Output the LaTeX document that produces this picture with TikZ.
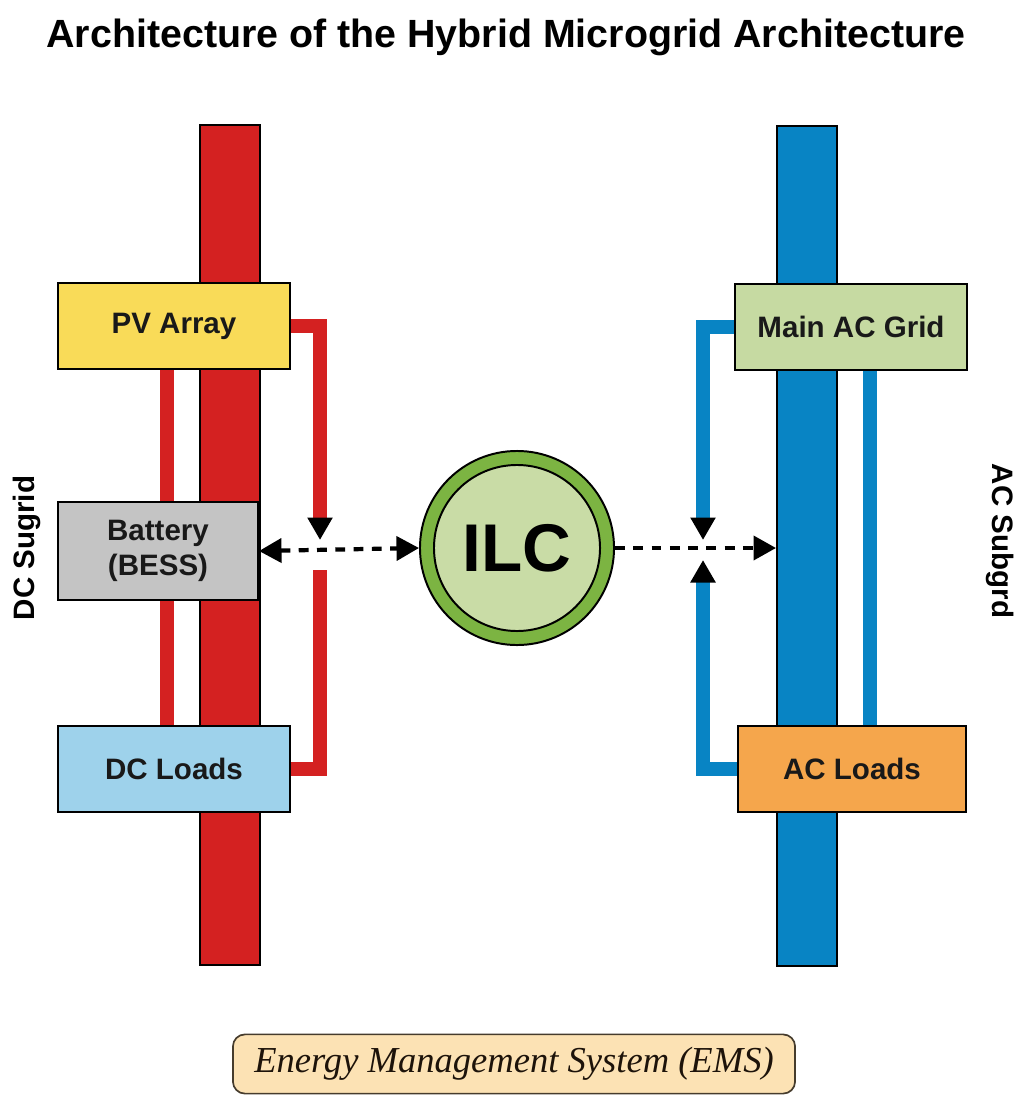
\documentclass[tikz,border=0pt]{standalone}
\usepackage{fontspec}
\setmainfont{Liberation Sans}
\newfontfamily\emsfont{Liberation Serif}
\usetikzlibrary{arrows.meta,positioning}
\definecolor{dcred}{RGB}{212,33,33}
\definecolor{acblue}{RGB}{8,132,196}
\definecolor{pvyellow}{RGB}{249,219,88}
\definecolor{battgray}{RGB}{196,196,196}
\definecolor{loadblue}{RGB}{158,210,235}
\definecolor{gridgreen}{RGB}{198,218,162}
\definecolor{loadorange}{RGB}{245,166,76}
\definecolor{ilcring}{RGB}{124,180,66}
\definecolor{ilcfill}{RGB}{201,220,166}
\definecolor{emsfill}{RGB}{252,226,180}
\definecolor{emsedge}{RGB}{70,60,45}
\pgfdeclarelayer{bg}
\pgfsetlayers{bg,main}

\begin{document}
\begin{tikzpicture}[x=0.025cm,y=-0.025cm,
    bus/.style={draw=black,line width=1.4pt,minimum width=1.5cm,minimum height=21cm,inner sep=0pt},
    box/.style={draw=black,line width=1.4pt,minimum width=5.8cm,minimum height=2.15cm,inner sep=0pt,
        align=center,text=black!90,font=\bfseries\fontsize{21}{25}\selectfont},
    link/.style={line width=9.5pt},
    tap/.style={line width=10.5pt},
    tip/.style={-{Triangle[length=16pt,width=17pt,color=black]}},
    flow/.style={black,line width=3pt,dash pattern=on 7pt off 6pt},
    side/.style={font=\bfseries\fontsize{21}{25}\selectfont}]
    \useasboundingbox (0,0) rectangle (1021,1096);
    \node[font=\bfseries\fontsize{28}{34}\selectfont] (title) at (506,37)
        {Architecture of the Hybrid Microgrid Architecture};

    % busbars
    \node[bus,fill=dcred] (dcbus) at (230,545) {};
    \node[bus,fill=acblue] (acbus) at (807,546) {};

    % DC side
    \node[box,fill=pvyellow] (pv) at (174,326) {PV Array};
    \node[box,fill=battgray,minimum width=5cm,minimum height=2.45cm] (batt) at (158,551) {Battery\\(BESS)};
    \node[box,fill=loadblue] (dcload) at (174,769) {DC Loads};

    % AC side
    \node[box,fill=gridgreen] (grid) at (851,327) {Main AC Grid};
    \node[box,fill=loadorange,minimum width=5.72cm] (acload) at (852,769) {AC Loads};

    \node[circle,draw=black,line width=1.4pt,fill=ilcring,minimum size=4.85cm] (ilc) at (517,548) {};
    \node[circle,draw=black,line width=1.4pt,fill=ilcfill,minimum size=4.15cm,
        font=\bfseries\fontsize{48}{52}\selectfont] (ilccore) at (ilc) {ILC};

    \node[side,rotate=90] (dclabel) at (27,548) {DC Sugrid};
    \node[side,rotate=-90] (aclabel) at (1000,541) {AC Subgrd};

    \begin{pgfonlayer}{bg}
        \draw[tap,dcred] ([xshift=2.75cm]pv.south west) -- ([xshift=2.75cm]pv.south west |- dcload.north);
        \draw[tap,acblue] ([xshift=-2.45cm]grid.south east) -- ([xshift=-2.45cm]grid.south east |- acload.north);
    \end{pgfonlayer}

    \coordinate (dcx) at (320,548);
    \coordinate (acx) at (703,548);
    \draw[link,dcred,tip] (pv.east) -| ([yshift=0.2cm]dcx);
    \draw[link,dcred] ([yshift=-0.55cm]dcx) |- (dcload.east);
    \draw[link,acblue,tip] (grid.west) -| ([yshift=0.2cm]acx);
    \draw[link,acblue,tip] (acload.west) -| ([yshift=-0.3cm]acx);

    \draw[flow,{Triangle[length=16pt,width=17pt]}-{Triangle[length=16pt,width=17pt]}] (batt.east) -- (ilc.west);
    \draw[flow,-{Triangle[length=16pt,width=17pt]}] (ilc.east) -- (ilc.east -| acbus.west);

    \node[draw=emsedge,fill=emsfill,line width=1.2pt,rounded corners=0.3cm,minimum width=14.05cm,
        minimum height=1.48cm,text=black!85!brown,font=\emsfont\itshape\fontsize{26}{30}\selectfont]
        (ems) at (514,1064) {Energy Management System (EMS)};
\end{tikzpicture}
\end{document}
